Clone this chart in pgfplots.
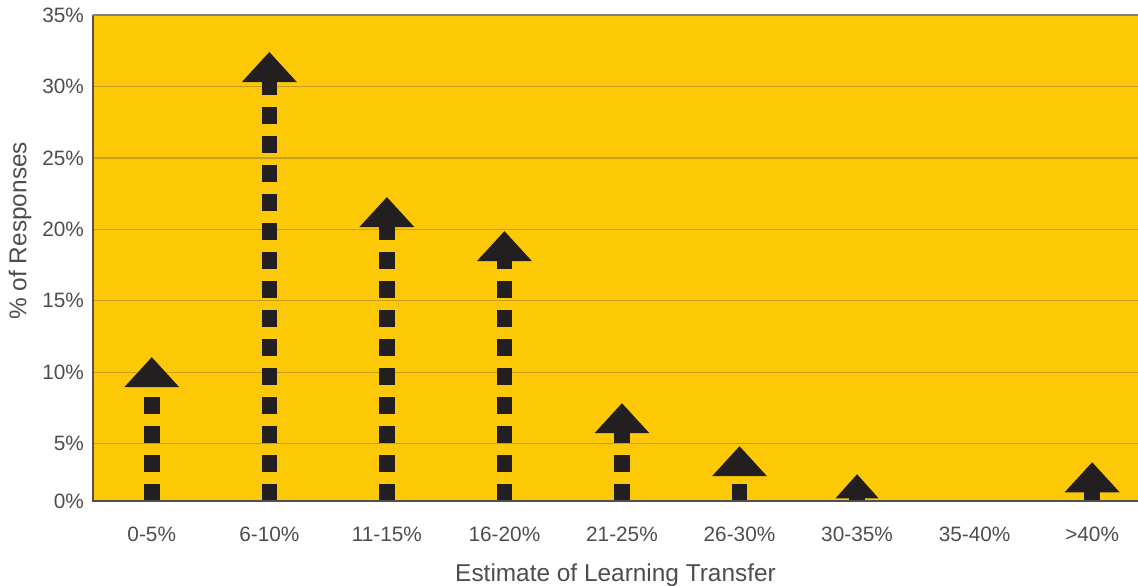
\documentclass[border=0pt]{standalone}
\usepackage{pgfplots}
\pgfplotsset{compat=1.18}
\usepackage{fontspec}
\setmainfont{Liberation Sans}
\usetikzlibrary{arrows.meta}
\definecolor{bgyellow}{RGB}{253,201,6}
\definecolor{gridc}{RGB}{196,160,30}
\definecolor{arrowc}{RGB}{35,31,32}
\definecolor{txtc}{RGB}{77,77,79}
\definecolor{axc}{RGB}{80,80,80}
\begin{document}
\begin{tikzpicture}
\begin{axis}[
  scale only axis,
  width=522.5pt, height=243pt,
  xmin=-0.5, xmax=8.39,
  ymin=1, ymax=35,
  axis background/.style={fill=bgyellow},
  axis line style={draw=none},
  xtick={0,1,2,3,4,5,6,7,8},
  xticklabels={0-5\%,6-10\%,11-15\%,16-20\%,21-25\%,26-30\%,30-35\%,35-40\%,>40\%},
  ytick={1,5,10,15,20,25,30,35},
  yticklabels={0\%,5\%,10\%,15\%,20\%,25\%,30\%,35\%},
  major tick length=0pt,
  ymajorgrids,
  grid style={gridc, line width=0.6pt},
  tick label style={font=\fontsize{10.4}{12}\selectfont, text=txtc},
  xticklabel style={yshift=-9.5pt},
  yticklabel style={xshift=-1pt},
  xlabel={Estimate of Learning Transfer},
  ylabel={\% of Responses},
  label style={font=\fontsize{12.2}{14}\selectfont, text=txtc},
  xlabel style={at={(rel axis cs:0.5,0)}, anchor=north, yshift=-28pt},
  ylabel style={at={(rel axis cs:0,0.556)}, anchor=center, yshift=36.5pt},
  clip=false,
]
\addplot[quiver={u=0, v=\thisrow{v}}, no markers, draw=arrowc, line width=7.75pt,
  dash pattern=on 8.5pt off 6pt,
  -{Triangle[width=27.5pt,length=15pt,line width=0pt]}]
  table {
x y v
0 1 10.06
1 1 31.41
2 1 21.26
3 1 18.88
4 1 6.84
5 1 3.83
8 1 2.71
};
\addplot[quiver={u=0, v=\thisrow{v}}, no markers, draw=arrowc, line width=7.75pt,
  dash pattern=on 8.5pt off 6pt,
  -{Triangle[width=21.5pt,length=12pt,line width=0pt]}]
  table {
x y v
6 1 1.87
};
\draw[axc, line width=1.1pt] (rel axis cs:0,1) -- (rel axis cs:0,0) -- (rel axis cs:1,0);
\draw[gray, line width=1pt] (rel axis cs:0,1) -- (rel axis cs:1,1);
\coordinate (sw) at (rel axis cs:0,0);
\coordinate (ne) at (rel axis cs:1,1);
\end{axis}
\pgfresetboundingbox
\path (sw) ++(-46.5pt,-42.5pt) coordinate (a);
\path (ne) ++(0pt,7.5pt) coordinate (b);
\path (a) rectangle (b);
\end{tikzpicture}
\end{document}
